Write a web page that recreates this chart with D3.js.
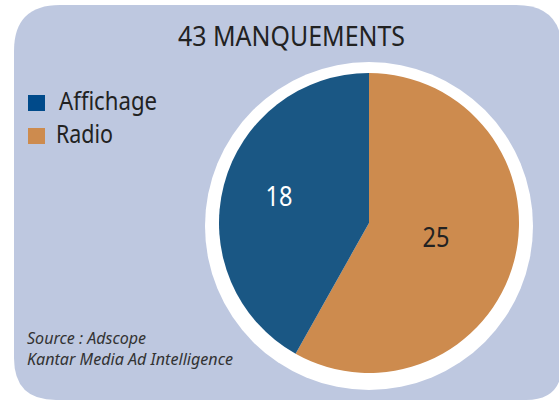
<!DOCTYPE html>
<html><head><meta charset="utf-8">
<script src="https://cdn.jsdelivr.net/npm/d3@7"></script>
<style>body{margin:0;background:#fff;}svg{display:block;}</style>
</head><body>
<svg id="c" width="559" height="401"></svg>
<script>
const title = "43 MANQUEMENTS";
const categories = ["Affichage", "Radio"];
const values = [18, 25];
const sliceColors = ["#1a5784", "#cd8b4e"];
const legendColors = ["#004a8a", "#cd8b4e"];
const sourceLines = ["Source : Adscope", "Kantar Media Ad Intelligence"];

const svg = d3.select("#c");
const font = "'Noto Sans', sans-serif";

svg.append("path")
  .attr("d", (() => {
    const x0 = 14, y0 = 5, x1 = 562, y1 = 400, rtl = 46, rtr = 46, rbr = 36, rbl = 42;
    return `M${x0+rtl},${y0} L${x1-rtr},${y0} Q${x1},${y0} ${x1},${y0+rtr} L${x1},${y1-rbr} Q${x1},${y1} ${x1-rbr},${y1} L${x0+rbl},${y1} Q${x0},${y1} ${x0},${y1-rbl} L${x0},${y0+rtl} Q${x0},${y0} ${x0+rtl},${y0} Z`;
  })())
  .attr("fill", "#bec8e0");

const cx = 369, cy = 223, r = 150;
svg.append("circle").attr("cx", cx).attr("cy", cy + 3).attr("r", 164).attr("fill", "#fff");

const arc = d3.arc().innerRadius(0).outerRadius(r);
const g = svg.append("g").attr("transform", `translate(${cx},${cy})`);
// Radio clockwise from 12 o'clock, Affichage fills the rest
const pieData = d3.pie().sort(null).value(d => d.v)
  ([{k: 1, v: values[1]}, {k: 0, v: values[0]}]);
g.selectAll("path").data(pieData).join("path")
  .attr("d", arc)
  .attr("fill", d => sliceColors[d.data.k]);

const labelPos = [[-90, -27.5], [67, 13.5]];
g.selectAll("text.v").data(values).join("text")
  .attr("class", "v")
  .attr("x", (d, i) => labelPos[i][0])
  .attr("y", (d, i) => labelPos[i][1])
  .attr("text-anchor", "middle")
  .attr("dy", "0.36em")
  .attr("font-family", font)
  .attr("font-size", 28)
  .attr("textLength", 27)
  .attr("lengthAdjust", "spacingAndGlyphs")
  .attr("fill", (d, i) => i === 0 ? "#fff" : "#222")
  .text(d => d);

svg.append("text")
  .attr("x", 178).attr("y", 46)
  .attr("font-family", font)
  .attr("font-size", 26.5)
  .attr("textLength", 227)
  .attr("lengthAdjust", "spacingAndGlyphs")
  .attr("fill", "#222")
  .text(title);

const legX = [59, 56], legW = [98, 57], legBase = [110, 143];
categories.forEach((c, i) => {
  svg.append("rect").attr("x", 28).attr("y", legBase[i] - 15).attr("width", 17).attr("height", 16).attr("fill", legendColors[i]);
  svg.append("text").attr("x", legX[i]).attr("y", legBase[i])
    .attr("font-family", font).attr("font-size", 25)
    .attr("textLength", legW[i]).attr("lengthAdjust", "spacingAndGlyphs")
    .attr("fill", "#222").text(c);
});

const srcW = [119, 206];
sourceLines.forEach((t, i) => {
  svg.append("text").attr("x", 27).attr("y", 344 + i * 21)
    .attr("font-family", font).attr("font-style", "italic")
    .attr("font-size", 16.5)
    .attr("textLength", srcW[i]).attr("lengthAdjust", "spacingAndGlyphs")
    .attr("fill", "#333").text(t);
});
</script>
</body></html>
